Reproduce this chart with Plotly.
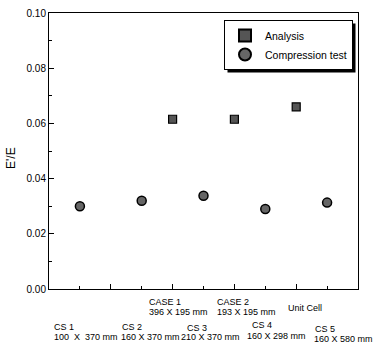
import plotly.graph_objects as go

# Data
analysis_x = [4, 6, 8]
analysis_y = [0.0615, 0.0615, 0.0660]
comp_x = [1, 3, 5, 7, 9]
comp_y = [0.0300, 0.0320, 0.0338, 0.0290, 0.0313]

# Category label texts (two lines each where applicable)
case_names = ["CASE 1", "CASE 2", "Unit Cell"]
case_sizes = ["396 X 195 mm", "193 X 195 mm", ""]
cs_names = ["CS 1", "CS 2", "CS 3", "CS 4", "CS 5"]
cs_sizes = ["100  X  370 mm", "160 X 370 mm", "210 X 370 mm", "160 X 298 mm", "160 X 580 mm"]
y_ticks = [0.00, 0.02, 0.04, 0.06, 0.08, 0.10]

FONT = "Liberation Sans, Arial, sans-serif"
L, R, T, B = 49, 358, 13, 289
PW, PH = R - L, B - T


def px(x):
    return (x - L) / PW


def py(y):
    return (B - y) / PH


fig = go.Figure()
fig.add_trace(go.Scatter(
    x=analysis_x, y=analysis_y, mode="markers", name="Analysis",
    marker=dict(symbol="square", size=8, color="#555555",
                line=dict(color="black", width=1.2))))
fig.add_trace(go.Scatter(
    x=comp_x, y=comp_y, mode="markers", name="Compression test",
    marker=dict(symbol="circle", size=9, color="#666666",
                line=dict(color="black", width=1.5))))


def label(text, x, y):
    fig.add_annotation(x=px(x), y=py(y), xref="paper", yref="paper",
                       text=text, showarrow=False, xanchor="left", yanchor="middle",
                       font=dict(size=9, family=FONT, color="black"))


case_pos = [(147, 302, 147, 312), (215, 302, 215, 312), (286, 308, 0, 0)]
for n, s, (x1, y1, x2, y2) in zip(case_names, case_sizes, case_pos):
    label(n, x1, y1)
    if s:
        label(s, x2, y2)

cs_pos = [(52, 327, 52, 337), (120, 327, 119, 337), (185, 328, 179, 337),
          (250, 325, 245, 336), (313, 329, 312, 339)]
for n, s, (x1, y1, x2, y2) in zip(cs_names, cs_sizes, cs_pos):
    label(n, x1, y1)
    label(s, x2, y2)

# y axis title
fig.add_annotation(x=px(11), y=py(158), xref="paper", yref="paper", text="E'/E",
                   textangle=-90, showarrow=False, xanchor="center", yanchor="middle",
                   font=dict(size=12, family=FONT, color="black"))

fig.update_layout(
    width=374, height=353,
    margin=dict(l=L, r=374 - R, t=T, b=353 - B),
    paper_bgcolor="white", plot_bgcolor="white",
    font=dict(family=FONT, size=11, color="black"),
    showlegend=True,
    legend=dict(x=px(224), y=py(20), xanchor="left", yanchor="top",
                bgcolor="white", bordercolor="black", borderwidth=1,
                font=dict(size=10.5, family=FONT, color="black"), itemsizing="constant",
                tracegroupgap=0, itemwidth=30),
    xaxis=dict(range=[0, 10], showgrid=False, zeroline=False, automargin=False,
               showline=True, linecolor="black", linewidth=1, mirror=True,
               tickvals=[2, 4, 6, 8], ticktext=["", "", "", ""],
               ticks="inside", ticklen=5, tickcolor="black",
               minor=dict(tickvals=[1, 3, 5, 7, 9], ticks="inside", ticklen=3, tickcolor="black")),
    yaxis=dict(range=[0, 0.10], showgrid=False, zeroline=False, automargin=False,
               showline=True, linecolor="black", linewidth=1, mirror=True,
               tickvals=y_ticks, tickformat=".2f",
               ticks="inside", ticklen=5, tickcolor="black",
               minor=dict(dtick=0.01, ticks="inside", ticklen=3, tickcolor="black"),
               tickfont=dict(size=10, family=FONT, color="black")),
)

post = """
document.body.style.margin='0px';
document.body.style.overflow='hidden';
var bg = document.querySelector('g.legend rect.bg');
if (bg) {
  var b = bg.getBBox();
  var r = document.createElementNS('http://www.w3.org/2000/svg', 'rect');
  r.setAttribute('x', b.x + 3); r.setAttribute('y', b.y + 3);
  r.setAttribute('width', b.width); r.setAttribute('height', b.height);
  r.setAttribute('fill', 'black');
  bg.parentNode.insertBefore(r, bg);
}
"""
fig.write_html("out.html", config={"displayModeBar": False}, post_script=post)
